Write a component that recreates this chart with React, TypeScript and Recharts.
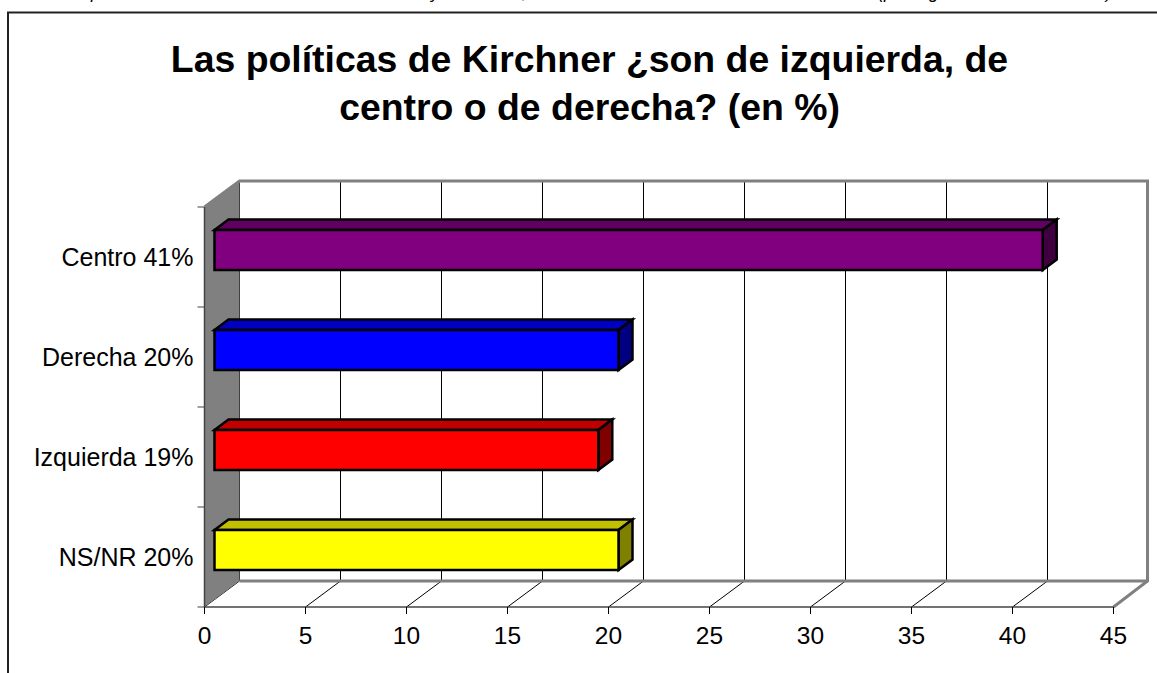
import { BarChart, Bar, XAxis, YAxis, CartesianGrid, usePlotArea } from 'recharts';

const categories = ['Centro 41%', 'Derecha 20%', 'Izquierda 19%', 'NS/NR 20%'];
const values = [41, 20, 19, 20];
const frontColors = ['#800080', '#0000ff', '#ff0000', '#ffff00'];
const topColors = ['#600060', '#0000c0', '#c00000', '#c0c000'];
const sideColors = ['#400040', '#000080', '#800000', '#808000'];
const xTicks = [0, 5, 10, 15, 20, 25, 30, 35, 40, 45];
const titleLines = ['Las políticas de Kirchner ¿son de izquierda, de', 'centro o de derecha? (en %)'];
// only the descenders of the caption above the chart are visible in the source
const clippedCaption: [string, number][] = [['p', 91], ['y', 431], [',', 522], ['(p', 878], ['g', 929], [')', 1106]];

const data = categories.map((name, i) => ({ name, value: values[i] }));

const FONT = '"Liberation Sans", Arial, sans-serif';
const GRAY = '#808080';
const DEPTH_X = 35;
const DEPTH_Y = 26;

function GridLine(props: any) {
  const { x1, y1, y2 } = props;
  return (
    <g key={props.key}>
      <line x1={x1 + DEPTH_X} y1={y1 - DEPTH_Y + 1} x2={x1 + DEPTH_X} y2={y2 - DEPTH_Y} stroke="#000" strokeWidth={1} />
      <line x1={x1} y1={y2} x2={x1 + DEPTH_X} y2={y2 - DEPTH_Y} stroke="#000" strokeWidth={1} />
    </g>
  );
}

function Walls() {
  const plot = usePlotArea();
  if (!plot) return null;
  const l = plot.x;
  const t = plot.y;
  const r = plot.x + plot.width;
  const b = plot.y + plot.height;
  const band = plot.height / categories.length;
  const edges = [0, 1, 2, 3, 4].map((i) => t + band * i);
  const backRight = r + DEPTH_X - 1;
  return (
    <g>
      <polygon
        points={`${l},${t} ${l + DEPTH_X},${t - DEPTH_Y} ${l + DEPTH_X},${b - DEPTH_Y} ${l},${b}`}
        fill={GRAY}
      />
      <polyline
        points={`${l},${t} ${l + DEPTH_X},${t - DEPTH_Y} ${backRight},${t - DEPTH_Y} ${backRight},${b - DEPTH_Y} ${r},${b}`}
        fill="none"
        stroke={GRAY}
        strokeWidth={3}
      />
      <line x1={l + DEPTH_X} y1={b - DEPTH_Y} x2={backRight} y2={b - DEPTH_Y} stroke={GRAY} strokeWidth={3} />
      {edges.map((y) => (
        <line key={y} x1={l - 7} y1={y} x2={l} y2={y} stroke={GRAY} strokeWidth={1.5} />
      ))}
      <line x1={l} y1={t} x2={l} y2={b} stroke="#444" strokeWidth={1.5} />
    </g>
  );
}

function Box(props: any) {
  const { x, y, width, height, index } = props;
  const left = x + 10;
  const top = y - 7;
  const right = left + width;
  const bottom = top + height;
  const dx = 14;
  const dy = 10.5;
  return (
    <g stroke="#000" strokeWidth={2.5} strokeLinejoin="miter">
      <polygon
        points={`${left},${top} ${left + dx},${top - dy} ${right + dx},${top - dy} ${right},${top}`}
        fill={topColors[index]}
      />
      <polygon
        points={`${right},${top} ${right + dx},${top - dy} ${right + dx},${bottom - dy} ${right},${bottom}`}
        fill={sideColors[index]}
      />
      <rect x={left} y={top} width={width} height={height} fill={frontColors[index]} />
    </g>
  );
}

function Decorations() {
  return (
    <g fontFamily={FONT}>
      <path d="M8 673 V12.5 H1157" fill="none" stroke="#222" strokeWidth={2} />
      {titleLines.map((line, i) => (
        <text key={line} x={589.5} y={72 + i * 48} textAnchor="middle" fontSize={37.4} fontWeight="bold" fill="#000">
          {line}
        </text>
      ))}
      {clippedCaption.map(([s, x]) => (
        <text key={x} x={x} y={-2} fontSize={18} fontStyle="italic" fill="#000">
          {s}
        </text>
      ))}
    </g>
  );
}

export default function App() {
  return (
    <div style={{ position: 'absolute', left: 0, top: 0, width: 1157, height: 673, background: '#fff' }}>
      <BarChart
        width={1157}
        height={673}
        data={data}
        layout="vertical"
        margin={{ top: 207, right: 43.5, bottom: 0, left: 0 }}
        barCategoryGap={60}
      >
        <CartesianGrid horizontal={false} vertical={GridLine} syncWithTicks />
        <Walls />
        <XAxis
          type="number"
          domain={[0, 45]}
          ticks={xTicks}
          interval={0}
          height={66}
          axisLine={{ stroke: '#444', strokeWidth: 1.5 }}
          tickLine={{ stroke: '#000' }}
          tickSize={7}
          tickMargin={13}
          tick={{ fontFamily: FONT, fontSize: 24.5, fill: '#000' }}
        />
        <YAxis
          type="category"
          dataKey="name"
          width={204.5}
          axisLine={false}
          tickLine={false}
          tickMargin={11}
          tickSize={0}
          tick={{ fontFamily: FONT, fontSize: 25, fill: '#000' }}
        />
        <Bar dataKey="value" barSize={40} shape={Box} isAnimationActive={false} />
        <Decorations />
      </BarChart>
    </div>
  );
}
